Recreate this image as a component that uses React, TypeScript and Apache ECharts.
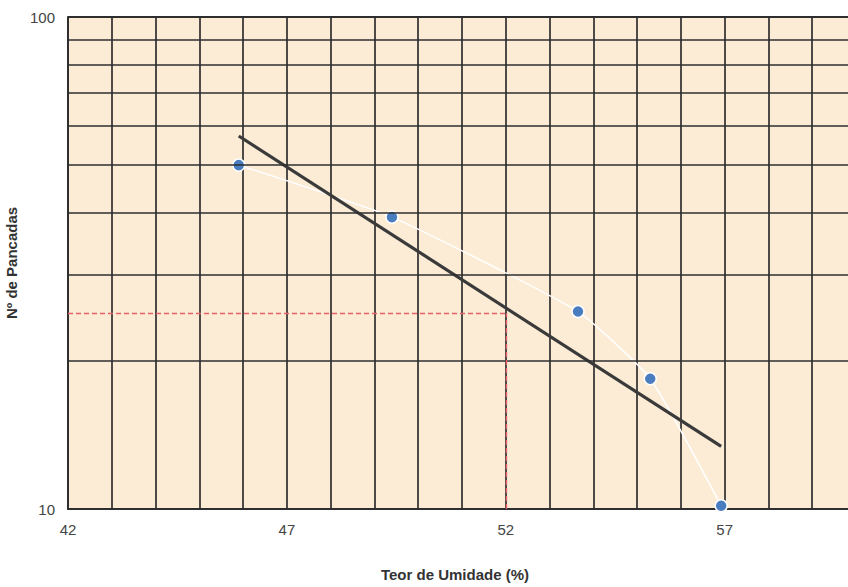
import React, { useEffect, useRef } from "react";
import * as echarts from "echarts";

const xMin = 42;
const xMax = 60;
const yMin = 10;
const yMax = 100;
const xLabelValues = [42, 47, 52, 57];
const hGridValues = [20, 30, 40, 50, 60, 70, 80, 90];

const measured: [number, number][] = [
  [45.9, 50.0],
  [49.4, 39.2],
  [53.65, 25.2],
  [55.3, 18.4],
  [56.92, 10.15],
];

const trend: [number, number][] = [
  [45.9, 57.3],
  [56.92, 13.4],
];

const refX = 52;
const refY = 25;

export default function App() {
  const ref = useRef<HTMLDivElement>(null);
  useEffect(() => {
    if (!ref.current) return;
    const chart = echarts.init(ref.current, null, { renderer: "svg" });
    const gridColor = "#2e2e2e";
    chart.setOption({
      animation: false,
      backgroundColor: "#ffffff",
      textStyle: { fontFamily: "Liberation Sans, Arial, sans-serif" },
      grid: {
        left: 68,
        top: 17,
        bottom: 78,
        width: 788,
        outerBoundsMode: "none",
        containLabel: false,
        show: true,
        backgroundColor: "#fcecd6",
        borderWidth: 0,
      },
      xAxis: {
        type: "value",
        min: xMin,
        max: xMax,
        interval: 1,
        name: "Teor de Umidade (%)",
        nameLocation: "middle",
        nameGap: 58,
        nameTextStyle: {
          fontWeight: "bold",
          fontSize: 15,
          color: "#333",
          padding: [0, 14, 0, 0],
        },
        axisLine: { show: true, lineStyle: { color: gridColor, width: 2 } },
        axisTick: { show: false },
        axisLabel: {
          color: "#444",
          fontSize: 15,
          margin: 13,
          formatter: (v: number) => (xLabelValues.includes(v) ? String(v) : ""),
        },
        splitLine: { show: true, lineStyle: { color: gridColor, width: 1.7 } },
      },
      yAxis: {
        type: "log",
        logBase: 10,
        min: yMin,
        max: yMax,
        name: "Nº de Pancadas",
        nameLocation: "middle",
        nameGap: 46,
        nameTextStyle: { fontWeight: "bold", fontSize: 15, color: "#333" },
        axisLine: { show: true, lineStyle: { color: gridColor, width: 2 } },
        axisTick: { show: false },
        axisLabel: { color: "#444", fontSize: 15, margin: 13 },
        splitLine: { show: true, lineStyle: { color: gridColor, width: 2 } },
      },
      series: [
        {
          type: "line",
          data: [],
          silent: true,
          markLine: {
            silent: true,
            symbol: ["none", "none"],
            label: { show: false },
            lineStyle: { color: gridColor, width: 1.7, type: "solid" },
            data: hGridValues.map((v) => ({ yAxis: v })),
          },
        },
        {
          type: "line",
          data: [],
          silent: true,
          markLine: {
            silent: true,
            symbol: ["none", "none"],
            label: { show: false },
            lineStyle: { color: "#e8606a", width: 1.4, type: [5, 3] },
            data: [
              [{ coord: [xMin, refY] }, { coord: [refX, refY] }],
              [{ coord: [refX, yMin] }, { coord: [refX, refY] }],
            ],
          },
        },
        {
          type: "line",
          data: measured,
          smooth: 0.15,
          symbol: "circle",
          symbolSize: 12,
          lineStyle: { color: "#ffffff", width: 1.5 },
          itemStyle: { color: "#4a7cc0", borderColor: "#ffffff", borderWidth: 1.5 },
          z: 3,
        },
        {
          type: "line",
          data: trend,
          showSymbol: false,
          symbol: "none",
          lineStyle: { color: "#3a3a3a", width: 3.2 },
          z: 4,
        },
      ],
    });
    return () => chart.dispose();
  }, []);
  return (
    <div
      ref={ref}
      style={{ position: "fixed", left: 0, top: 0, width: 848, height: 587 }}
    />
  );
}
